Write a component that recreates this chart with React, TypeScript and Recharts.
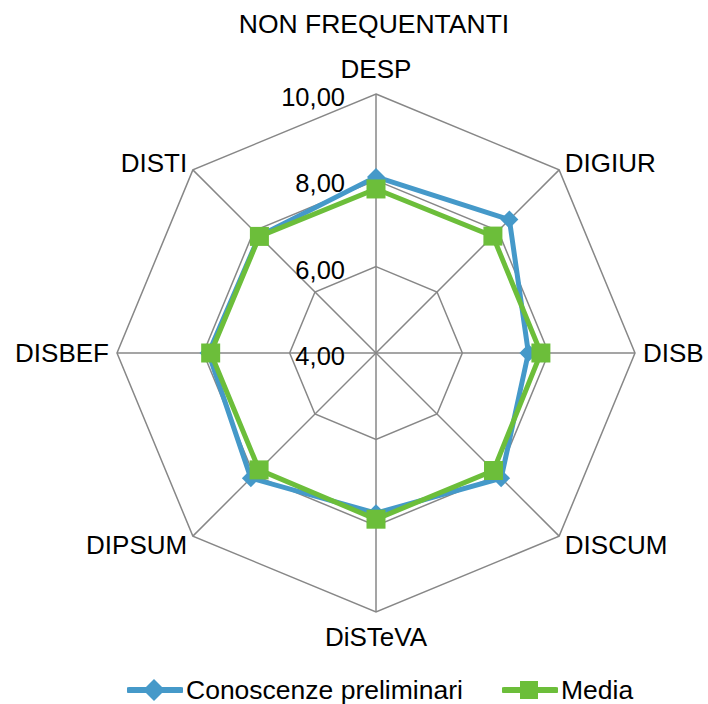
import { RadarChart, Radar, PolarGrid, PolarAngleAxis, PolarRadiusAxis, Legend } from 'recharts';

const categories = ['DESP', 'DIGIUR', 'DISB', 'DISCUM', 'DiSTeVA', 'DIPSUM', 'DISBEF', 'DISTI'];
const conoscenze = [8.08, 8.37, 7.53, 8.1, 7.71, 8.1, 7.88, 7.83];
const media = [7.8, 7.83, 7.82, 7.85, 7.85, 7.83, 7.83, 7.82];
const radiusTicks = [4, 6, 8, 10];

const data = categories.map((c, i) => ({ category: c, conoscenze: conoscenze[i], media: media[i] }));

const FONT = '"Liberation Sans", Arial, sans-serif';
const BLUE = '#4599C9';
const GREEN = '#6CBE3A';
const GRID = '#878787';
const CX = 376;
const CY = 353;

const fmt = (v: number) => v.toFixed(2).replace('.', ',');

const RadiusTick = (props: any) => {
  const { x, y, payload } = props;
  return (
    <text x={x - 31} y={y + 3} textAnchor="end" dominantBaseline="central" fontSize={25.5} fontFamily={FONT} fill="#000">
      {fmt(payload.value)}
    </text>
  );
};

const AngleTick = (props: any) => {
  const { x, y, payload, textAnchor } = props;
  const dx = x - CX;
  const dy = y - CY;
  let shift = 0;
  if (Math.abs(dx) < 1) shift = Math.sign(dy) * 17;
  else if (Math.abs(dy) > 1) shift = dy < 0 ? -1 : 3;
  return (
    <text x={x} y={y + shift} textAnchor={textAnchor} dominantBaseline="central" fontSize={26} fontFamily={FONT} fill="#000">
      {payload.value}
    </text>
  );
};

const Diamond = (props: any) => {
  const { cx, cy } = props;
  return <path key={`d-${cx}-${cy}`} d={`M${cx},${cy - 9}L${cx + 9},${cy}L${cx},${cy + 9}L${cx - 9},${cy}Z`} fill={BLUE} />;
};

const Square = (props: any) => {
  const { cx, cy } = props;
  return <rect key={`s-${cx}-${cy}`} x={cx - 9.5} y={cy - 9.5} width={19} height={19} fill={GREEN} />;
};

const legendItems = [
  { label: 'Conoscenze preliminari', color: BLUE, shape: 'diamond', left: 127 },
  { label: 'Media', color: GREEN, shape: 'square', left: 502 },
];

const LegendContent = () => (
  <div style={{ position: 'relative', width: 708, height: 32, fontFamily: FONT, fontSize: 26.5, color: '#000' }}>
    {legendItems.map((it) => (
      <div key={it.label} style={{ position: 'absolute', left: it.left, top: 0, display: 'flex', alignItems: 'center', height: 32 }}>
        <svg width={56} height={24} style={{ marginRight: 3 }}>
          <line x1={2} y1={12} x2={54} y2={12} stroke={it.color} strokeWidth={6} strokeLinecap="round" />
          {it.shape === 'diamond' ? (
            <path d="M27,1L38,12L27,23L16,12Z" fill={it.color} />
          ) : (
            <rect x={18} y={3} width={18} height={18} fill={it.color} />
          )}
        </svg>
        <span style={{ whiteSpace: 'nowrap' }}>{it.label}</span>
      </div>
    ))}
  </div>
);

export default function App() {
  return (
    <div style={{ position: 'absolute', left: 0, top: 0, width: 708, height: 704, background: '#fff' }}>
      <div style={{ position: 'absolute', left: 0, top: 9, width: 748, textAlign: 'center', fontFamily: FONT, fontSize: 26.5, color: '#000' }}>
        NON FREQUENTANTI
      </div>
      <RadarChart width={708} height={704} data={data} cx={CX} cy={CY} outerRadius={259} margin={{ top: 0, right: 0, bottom: 0, left: 0 }}>
        <PolarGrid gridType="polygon" stroke={GRID} strokeWidth={1.5} />
        <PolarAngleAxis dataKey="category" tickLine={false} axisLine={false} tick={AngleTick} />
        <PolarRadiusAxis angle={90} domain={[4, 10]} ticks={radiusTicks} tickCount={4} axisLine={false} tickLine={false} tick={RadiusTick} />
        <Radar name="Conoscenze preliminari" dataKey="conoscenze" stroke={BLUE} strokeWidth={5} fill="none" fillOpacity={0} dot={Diamond} isAnimationActive={false} />
        <Radar name="Media" dataKey="media" stroke={GREEN} strokeWidth={5} fill="none" fillOpacity={0} dot={Square} isAnimationActive={false} />
        <Legend content={LegendContent} wrapperStyle={{ left: 0, top: 674, width: 708 }} />
      </RadarChart>
    </div>
  );
}
